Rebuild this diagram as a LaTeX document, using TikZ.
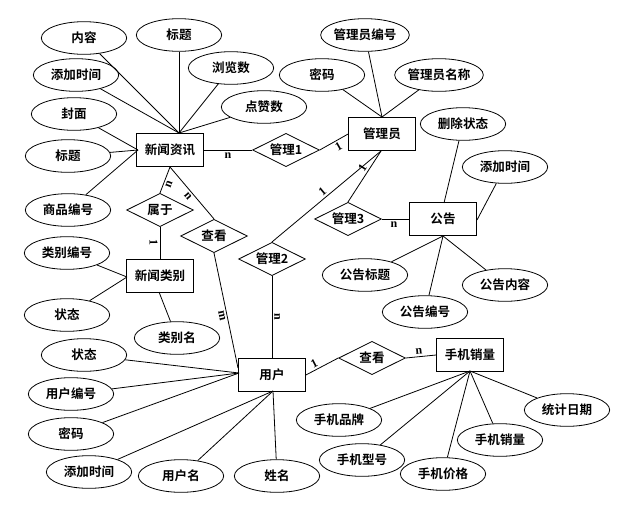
\documentclass[tikz,border=0pt]{standalone}
\usepackage{fontspec}
\setmainfont{Liberation Serif}
\newfontfamily\cjk{Noto Sans CJK SC}[BoldFont={Noto Sans CJK SC Bold}]
\usetikzlibrary{shapes.geometric}

\begin{document}
\begin{tikzpicture}[x=0.75pt,y=-0.75pt,
    txt/.style={font=\cjk\bfseries\fontsize{9.4}{11}\selectfont},
    ent/.style={txt,draw,line width=0.8pt,minimum width=50pt,minimum height=25pt,inner sep=0pt},
    rel/.style={txt,draw,diamond,aspect=2,line width=0.6pt,minimum width=50pt,minimum height=25pt,inner sep=0pt},
    attr/.style={txt,draw,ellipse,line width=0.6pt,minimum width=64pt,minimum height=24.5pt,inner sep=0pt},
    card/.style={font=\bfseries\fontsize{9}{10}\selectfont,inner sep=1.5pt},
    ln/.style={line width=0.6pt}]
    \useasboundingbox (0,0) rectangle (632,504);

    \node[ent] (news) at (170,150) {新闻资讯};
    \node[ent] (admin) at (382,134) {管理员};
    \node[ent] (notice) at (443,219) {公告};
    \node[ent] (cat) at (160,276) {新闻类别};
    \node[ent] (user) at (272,375) {用户};
    \node[ent] (sales) at (470,355) {手机销量};

    \node[rel] (mg1) at (286,150) {管理1};
    \node[rel] (belong) at (160,210) {属于};
    \node[rel] (view1) at (214,236) {查看};
    \node[rel] (mg2) at (272,259) {管理2};
    \node[rel] (mg3) at (348,219) {管理3};
    \node[rel] (view2) at (372,358) {查看};

    \node[attr] (n1) at (84,38) {内容};
    \node[attr] (n2) at (179,35) {标题};
    \node[attr] (n3) at (231,68) {浏览数};
    \node[attr] (n4) at (76,75) {添加时间};
    \node[attr] (n5) at (264,107) {点赞数};
    \node[attr] (n6) at (74,114) {封面};
    \node[attr] (n7) at (68,156) {标题};
    \node[attr] (n8) at (68,210) {商品编号};

    \node[attr] (a1) at (365,35) {管理员编号};
    \node[attr] (a2) at (322,75) {密码};
    \node[attr] (a3) at (439,75) {管理员名称};

    \node[attr] (g1) at (463,124) {删除状态};
    \node[attr] (g2) at (505,167) {添加时间};
    \node[attr] (g3) at (365,275) {公告标题};
    \node[attr] (g4) at (505,285) {公告内容};
    \node[attr] (g5) at (425,312) {公告编号};

    \node[attr] (c1) at (67,253) {类别编号};
    \node[attr] (c2) at (67,315) {状态};
    \node[attr] (c3) at (177,338) {类别名};

    \node[attr] (u1) at (84,355) {状态};
    \node[attr] (u2) at (71,394) {用户编号};
    \node[attr] (u3) at (71,434) {密码};
    \node[attr] (u4) at (89,472) {添加时间};
    \node[attr] (u5) at (181,476) {用户名};
    \node[attr] (u6) at (277,476) {姓名};

    \node[attr] (s1) at (339,420) {手机品牌};
    \node[attr] (s2) at (362,460) {手机型号};
    \node[attr] (s3) at (443,474) {手机价格};
    \node[attr] (s4) at (500,440) {手机销量};
    \node[attr] (s5) at (567,410) {统计日期};

    \coordinate (newsT) at (179,133);
    \coordinate (newsL) at (138,150);
    \coordinate (newsB) at (170,167);
    \coordinate (adminT) at (382,117);
    \coordinate (adminB) at (381,151);
    \coordinate (noticeT) at (444,203);
    \coordinate (noticeB) at (443,236);
    \coordinate (noticeR) at (477,220);
    \coordinate (catL) at (127,277);
    \coordinate (catB) at (159,292);
    \coordinate (userL) at (239,373);
    \coordinate (userLm) at (238,368);
    \coordinate (userB) at (273,391);
    \coordinate (salesB) at (470,371);

    \foreach \a in {n1,n2,n3,n4,n5} \draw[ln] (\a) -- (newsT);
    \foreach \a in {n6,n7,n8} \draw[ln] (\a) -- (newsL);
    \foreach \a in {a1,a2,a3} \draw[ln] (\a) -- (adminT);
    \draw[ln] (g1) -- (noticeT);
    \draw[ln] (g2) -- (noticeR);
    \foreach \a in {g3,g4,g5} \draw[ln] (\a) -- (noticeB);
    \foreach \a in {c1,c2} \draw[ln] (\a) -- (catL);
    \draw[ln] (c3) -- (catB);
    \foreach \a in {u1,u2,u3} \draw[ln] (\a) -- (userL);
    \foreach \a in {u4,u5,u6} \draw[ln] (\a) -- (userB);
    \foreach \a in {s1,s2,s3,s4,s5} \draw[ln] (\a) -- (salesB);

    \draw[ln] (news.east) -- node[card,below,pos=0.5]{n} (mg1.west);
    \draw[ln] (mg1.east) -- node[card,sloped,below,pos=0.55]{1} (admin.west);
    \draw[ln] (adminB) -- node[card,sloped,above,pos=0.5]{1} (mg2.north);
    \draw[ln] (adminB) -- node[card,sloped,above,pos=0.4]{1} (mg3.north);
    \draw[ln] (mg3.east) -- node[card,below,pos=0.45]{n} (notice.west);
    \draw[ln] (newsB) -- node[card,sloped,below,pos=0.6]{n} (belong.north);
    \draw[ln] (newsB) -- node[card,sloped,below,pos=0.5]{n} (view1.north);
    \draw[ln] (belong.south) -- node[card,sloped,below,pos=0.5]{1} (cat.north);
    \draw[ln] (view1.south) -- node[card,sloped,below,pos=0.54]{m} (userLm);
    \draw[ln] (mg2.south) -- node[card,sloped,above,pos=0.5]{n} (user.north);
    \draw[ln] (user.east) -- node[card,sloped,above,pos=0.35]{1} (view2.west);
    \draw[ln] (view2.east) -- node[card,sloped,above,pos=0.45]{n} (sales.west);
\end{tikzpicture}
\end{document}
